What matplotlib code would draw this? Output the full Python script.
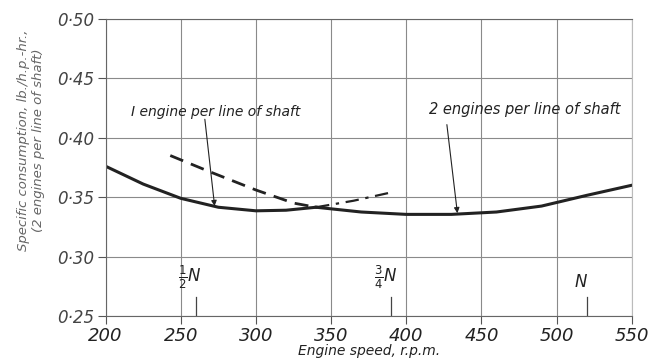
import matplotlib
matplotlib.use('Agg')
import matplotlib.pyplot as plt
import numpy as np

# speeds (r.p.m.) and specific consumption
one_solid_rpm = [200, 225, 250, 275, 300, 320, 340]
one_solid_val = [0.376, 0.361, 0.349, 0.3415, 0.3385, 0.339, 0.3415]
one_dashdot_rpm = [340, 365, 390]
one_dashdot_val = [0.3415, 0.347, 0.354]

two_dashed_rpm = [243, 270, 300, 325, 340]
two_dashed_val = [0.385, 0.371, 0.356, 0.345, 0.3415]
two_solid_rpm = [340, 370, 400, 430, 460, 490, 520, 550]
two_solid_val = [0.3415, 0.3375, 0.3355, 0.3355, 0.3375, 0.3425, 0.3515, 0.360]

x_ticks = [200, 250, 300, 350, 400, 450, 500, 550]
y_ticks = [0.25, 0.30, 0.35, 0.40, 0.45, 0.50]
y_labels = ['0·25', '0·30', '0·35', '0·40', '0·45', '0·50']

markers_rpm = [260, 390, 520]
markers_txt = [r'$\frac{1}{2}$N', r'$\frac{3}{4}$N', 'N']

ink = '#222222'
plt.rcParams['mathtext.fontset'] = 'dejavusans'

fig = plt.figure(figsize=(6.52, 3.62), dpi=100)
ax = fig.add_axes([0.162, 0.127, 0.807, 0.821])

ax.plot(one_solid_rpm, one_solid_val, color=ink, lw=2.2)
ax.plot(one_dashdot_rpm, one_dashdot_val, color=ink, lw=1.6, dashes=(6, 3, 1.5, 3))
ax.plot(two_dashed_rpm, two_dashed_val, color=ink, lw=2.0, dashes=(5, 3))
ax.plot(two_solid_rpm, two_solid_val, color=ink, lw=2.2)

ax.set_xlim(200, 550)
ax.set_ylim(0.25, 0.50)
ax.set_xticks(x_ticks)
ax.set_xticklabels([str(v) for v in x_ticks], fontsize=13, style='italic', color=ink)
ax.set_yticks(y_ticks)
ax.set_yticklabels(y_labels, fontsize=12, style='italic', color='#444444')
ax.grid(True, color='#8a8a8a', lw=0.8)
ax.tick_params(length=6, width=0.8, color='#555555', pad=2)
for s in ax.spines.values():
    s.set_color('#666666')
    s.set_linewidth(0.8)
ax.spines['right'].set_color('#bbbbbb')

ax.set_xlabel('Engine speed, r.p.m.', fontsize=10, style='italic', color=ink, labelpad=-1)
ax.set_ylabel('Specific consumption, lb./h.p.-hr.,\n(2 engines per line of shaft)',
              fontsize=9.5, style='italic', color='#666666')
ax.yaxis.set_label_coords(-0.115, 0.59)

# speed markers
for r, t in zip(markers_rpm, markers_txt):
    ax.plot([r, r], [0.25, 0.266], color='#444444', lw=0.9)
    ax.text(r - 4, 0.271, t, fontsize=12, style='italic', color=ink, ha='center', va='bottom')

ax.text(273, 0.422, 'I engine per line of shaft', fontsize=10, style='italic', color=ink,
        ha='center', va='center')
ax.text(479, 0.424, '2 engines per line of shaft', fontsize=10.5, style='italic', color=ink,
        ha='center', va='center')
arrow = dict(arrowstyle='-|>', color=ink, lw=0.8, shrinkA=0, shrinkB=0, mutation_scale=8)
ax.annotate('', xy=(272.5, 0.3425), xytext=(266, 0.4155), arrowprops=arrow)
ax.annotate('', xy=(434, 0.3365), xytext=(427, 0.411), arrowprops=arrow)

fig.savefig('out.png', dpi=100)
